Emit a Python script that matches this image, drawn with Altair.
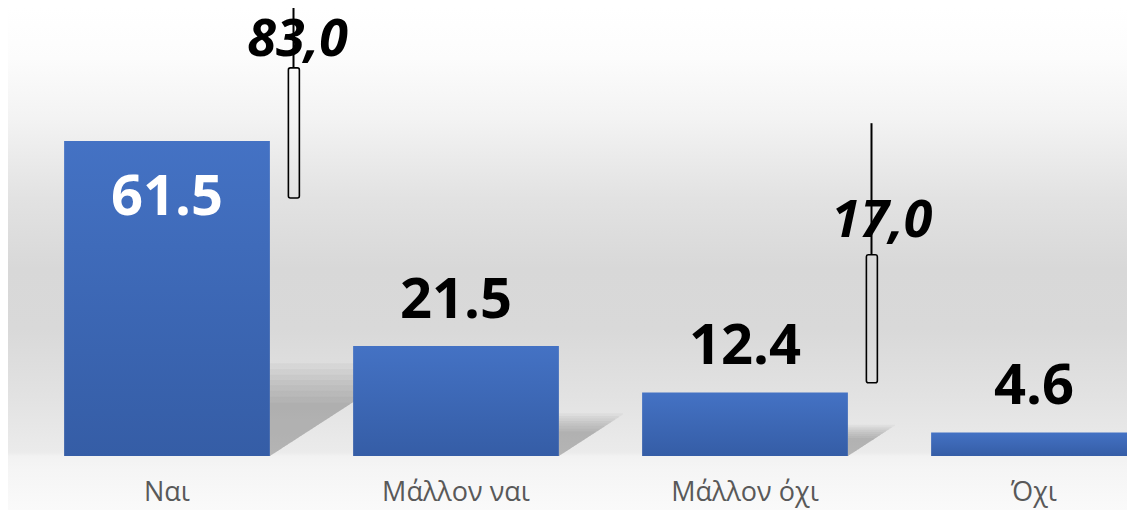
import altair as alt
import pandas as pd

# ---------------- data ----------------
categories = ["Ναι", "Μάλλον ναι", "Μάλλον όχι", "Όχι"]
values = [61.5, 21.5, 12.4, 4.6]

bracket_labels = ["83,0", "17,0"]
bracket_after = [0, 2]          # bracket sits right of this category index

# ---------------- layout / style ----------------
W, H = 1119, 502
X_DOM = [-0.5502, 3.3218]
Y_DOM = [-10.55, 87.5]
HALF = 0.356                    # half bar width in category units

bg_stops = [
    (0.0, "#ffffff"), (0.10, "#fcfcfc"), (0.22, "#f3f3f3"), (0.38, "#e2e2e2"),
    (0.52, "#d8d8d8"), (0.64, "#d9d9d9"), (0.76, "#e1e1e1"), (0.885, "#ebebeb"),
    (0.893, "#f2f2f2"), (0.92, "#f5f5f5"), (1.0, "#fafafa"),
]
bar_grad = {"gradient": "linear", "x1": 0, "y1": 0, "x2": 0, "y2": 1,
            "stops": [{"offset": 0, "color": "#4472C4"},
                      {"offset": 1, "color": "#355DA6"}]}
bg_grad = {"gradient": "linear", "x1": 0, "y1": 0, "x2": 0, "y2": 1,
           "stops": [{"offset": o, "color": c} for o, c in bg_stops]}

xs = alt.Scale(domain=X_DOM, nice=False, zero=False)
ys = alt.Scale(domain=Y_DOM, nice=False, zero=False)

bars_df = pd.DataFrame({
    "cat": categories,
    "value": values,
    "idx": range(len(categories)),
})
bars_df["x0"] = bars_df["idx"] - HALF
bars_df["x1"] = bars_df["idx"] + HALF
bars_df["base"] = 0.0
bars_df["label"] = [f"{v:.1f}" for v in values]

# soft shadows (decoration derived from bar heights)
sh_rows = []
for i, v in enumerate(values):
    for scale in [1.22, 1.14, 1.07, 1.0, 0.93, 0.86, 0.78, 0.7]:
        h = (0.2 * v + 2.54) * scale
        length = 1.5 * h * 5.12 / 289
        left = i + HALF
        key = f"{i}-{scale}"
        sh_rows.append({"k": key, "x": left, "top": h, "bot": 0.0})
        sh_rows.append({"k": key, "x": left + length, "top": h, "bot": h * 0.97})
sh_df = pd.DataFrame(sh_rows)

# bracket annotations (positions in data units)
br_df = pd.DataFrame({
    "label": bracket_labels,
    "xc": [b + 0.4377 for b in bracket_after],
    "rx0": [b + 0.4200 for b in bracket_after],
    "rx1": [b + 0.4580 for b in bracket_after],
    "line_top": [92.0, 65.0],
    "rect_top": [75.8, 39.3],
    "rect_bot": [50.4, 14.3],
    "tx": [0.452, 2.474],
    "ty": [78.2, 42.8],
})

base = alt.Chart(bars_df)

background = alt.Chart(pd.DataFrame({"a": [0]})).mark_rect(fill=bg_grad).encode(
    x=alt.value(0), x2=alt.value(W), y=alt.value(0), y2=alt.value(H)
)

shadows = alt.Chart(sh_df).mark_area(color="#5e5e5e", opacity=0.055, clip=True).encode(
    x=alt.X("x:Q", scale=xs, axis=None),
    y=alt.Y("top:Q", scale=ys, axis=None),
    y2="bot:Q",
    detail="k:N",
)

bars = base.mark_bar(fill=bar_grad, clip=True).encode(
    x=alt.X("x0:Q", scale=xs, axis=None),
    x2="x1:Q",
    y=alt.Y("value:Q", scale=ys, axis=None),
    y2="base:Q",
)

font = "Open Sans"
lab_in = base.transform_filter("datum.value > 50").mark_text(
    font=font, fontSize=56, fontWeight="bold", color="#ffffff",
    baseline="alphabetic", dy=74,
).encode(x=alt.X("idx:Q", scale=xs), y=alt.Y("value:Q", scale=ys), text="label:N")

lab_out = base.transform_filter("datum.value <= 50").mark_text(
    font=font, fontSize=56, fontWeight="bold", color="#000000",
    baseline="alphabetic", dy=-28,
).encode(x=alt.X("idx:Q", scale=xs), y=alt.Y("value:Q", scale=ys), text="label:N")

cat_lab = base.mark_text(
    font=font, fontSize=27, color="#595959", baseline="alphabetic", dy=45,
).encode(x=alt.X("idx:Q", scale=xs), y=alt.Y("base:Q", scale=ys), text="cat:N")

br = alt.Chart(br_df)
br_line = br.mark_rule(color="#000000", strokeWidth=2, clip=True).encode(
    x=alt.X("xc:Q", scale=xs), y=alt.Y("line_top:Q", scale=ys), y2="rect_top:Q"
)
br_rect = br.mark_rect(fillOpacity=0, stroke="#000000", strokeWidth=1.6,
                       cornerRadius=2).encode(
    x=alt.X("rx0:Q", scale=xs), x2="rx1:Q",
    y=alt.Y("rect_top:Q", scale=ys), y2="rect_bot:Q",
)
br_text = br.mark_text(
    font=font, fontSize=52, fontWeight="bold", fontStyle="italic",
    color="#000000", baseline="alphabetic",
).encode(x=alt.X("tx:Q", scale=xs), y=alt.Y("ty:Q", scale=ys), text="label:N")

chart = alt.layer(
    background, shadows, bars, br_rect, br_text, br_line, lab_in, lab_out, cat_lab
).properties(
    width=W, height=H, padding=0, autosize=alt.AutoSizeParams(type="none")
).configure_view(strokeWidth=0)

chart.save("out.html", embed_options={"renderer": "svg", "actions": False})
